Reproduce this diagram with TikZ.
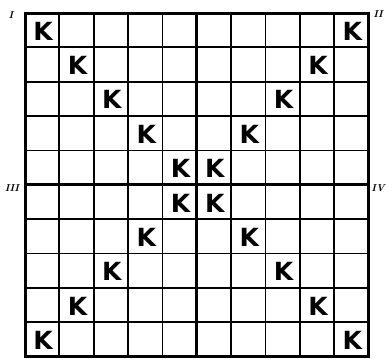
\documentclass[tikz,border=0pt]{standalone}
\usepackage{fontspec}
\newfontfamily\kfont{DejaVu Sans}
\begin{document}
\begin{tikzpicture}[x=1pt,y=-1pt,
  thinline/.style={line width=1.8pt},
  thickline/.style={line width=3pt},
  kmark/.style={font=\kfont\bfseries\fontsize{25}{25}\selectfont, inner sep=0pt, anchor=center},
  corner/.style={font=\bfseries\itshape\fontsize{10}{10}\selectfont, inner sep=0pt}]
\useasboundingbox (0,0) rectangle (386,359);
\def\gx{25}\def\gy{13}\def\cs{34.35}
% thin grid lines
\foreach \i in {1,2,3,4,6,7,8,9}{
  \draw[thinline] (\gx+\i*\cs,\gy) -- (\gx+\i*\cs,\gy+10*\cs);
  \draw[thinline] (\gx,\gy+\i*\cs) -- (\gx+10*\cs,\gy+\i*\cs);
}
% thick center lines
\draw[thickline] (\gx+5*\cs,\gy) -- (\gx+5*\cs,\gy+10*\cs);
\draw[thickline] (\gx,\gy+5*\cs) -- (\gx+10*\cs,\gy+5*\cs);
% outer border
\draw[thickline] (\gx,\gy) rectangle (\gx+10*\cs,\gy+10*\cs);
% K marks
\foreach \i in {0,...,9}{
  \pgfmathsetmacro\j{9-\i}
  \node[kmark] (ka\i) at (\gx+\i*\cs+0.5*\cs+1,\gy+\i*\cs+0.5*\cs+1) {K};
  \node[kmark] (kb\i) at (\gx+\j*\cs+0.5*\cs+1,\gy+\i*\cs+0.5*\cs+1) {K};
}
% corner labels
\node[corner] (l1) at (11,15) {I};
\node[corner] (l2) at (378,14) {II};
\node[corner] (l3) at (12,188) {III};
\node[corner] (l4) at (378,188) {IV};
\end{tikzpicture}
\end{document}
